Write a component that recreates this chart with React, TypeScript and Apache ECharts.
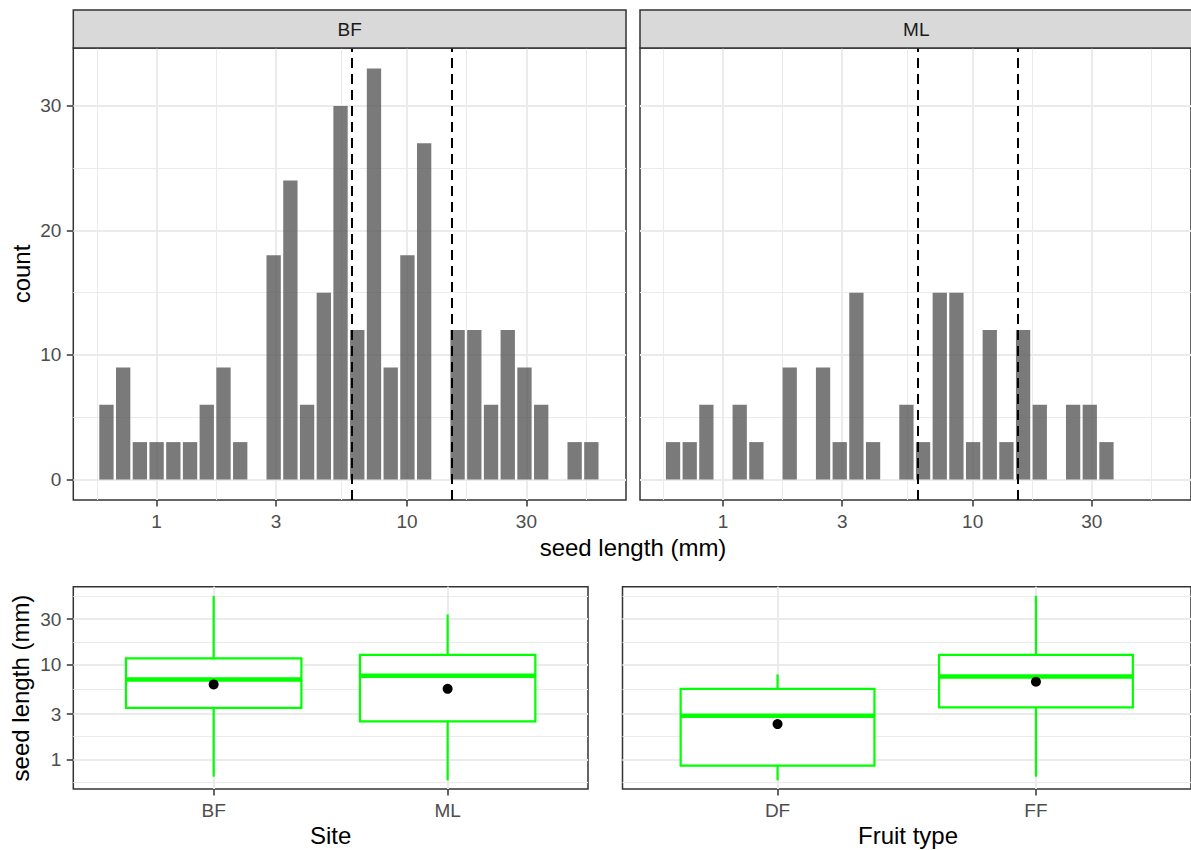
import React, { useEffect, useRef } from "react";
import * as echarts from "echarts";

// ---------- data ----------
// histogram bins (equal width in log10 space)
const binStartLog10 = -0.234;
const binWidthLog10 = 0.0668;
const bfCounts = [6, 9, 3, 3, 3, 3, 6, 9, 3, 0, 18, 24, 6, 15, 30, 12, 33, 9, 18, 27, 0, 12, 12, 6, 12, 9, 6, 0, 3, 3];
const mlCounts = [3, 3, 6, 0, 6, 3, 0, 9, 0, 9, 3, 15, 3, 0, 6, 3, 15, 15, 3, 12, 3, 12, 6, 0, 6, 6, 3, 0, 0, 0];
const facetNames = ["BF", "ML"];
const cutoffValues = [6, 15];

const lengthTicks = [1, 3, 10, 30];
const lengthMinorGrid = [0.577, 1.732, 5.477, 17.32, 51.96];
const countTicks = [0, 10, 20, 30];
const countMinorGrid = [5, 15, 25];

const siteCategories = ["BF", "ML"];
const siteLower = [0.656, 0.6];
const siteQ1 = [3.49, 2.51];
const siteMedian = [6.95, 7.59];
const siteQ3 = [11.6, 12.6];
const siteUpper = [52.7, 33.6];
const siteMean = [6.16, 5.53];

const fruitCategories = ["DF", "FF"];
const fruitLower = [0.6, 0.656];
const fruitQ1 = [0.857, 3.53];
const fruitMedian = [2.88, 7.48];
const fruitQ3 = [5.53, 12.6];
const fruitUpper = [7.85, 52.7];
const fruitMean = [2.35, 6.56];

// ---------- style ----------
const FONT = '"Liberation Sans", Arial, Helvetica, sans-serif';
const TICK_SIZE = 19;
const TITLE_SIZE = 24;
const GRID_COL = "#EBEBEB";
const BORDER_COL = "#333333";
const BOX_COL = "#00FF00";

const lg = (v: number) => Math.log10(v);
const HIST_X = [-0.333, 1.875];
const HIST_Y = [-1.65, 34.65];
const BOX_Y = [-0.313, 1.819];
const BOX_X = [0.4, 2.6];

function mainAxis(gridIndex: number, range: number[], ticks: number[], showLabels: boolean, formatter: any, margin: number) {
  return {
    type: "value",
    gridIndex,
    min: range[0],
    max: range[1],
    axisLine: { show: false, onZero: false },
    axisTick: {
      show: showLabels,
      customValues: ticks,
      length: 6.5,
      lineStyle: { color: BORDER_COL, width: 1.5 },
    },
    axisLabel: {
      show: showLabels,
      customValues: ticks,
      formatter,
      color: "#4D4D4D",
      fontSize: TICK_SIZE,
      fontFamily: FONT,
      margin,
    },
    splitLine: { show: true, lineStyle: { color: GRID_COL, width: 2 } },
  };
}

function minorAxis(gridIndex: number, range: number[], ticks: number[]) {
  return {
    type: "value",
    gridIndex,
    min: range[0],
    max: range[1],
    axisLine: { show: false, onZero: false },
    axisTick: { show: false, customValues: ticks },
    axisLabel: { show: false, customValues: ticks },
    splitLine: { show: true, lineStyle: { color: GRID_COL, width: 1 } },
  };
}

const logFmt = (v: number) => String(Math.round(Math.pow(10, v)));

function histSeries(counts: number[], xIdx: number, yIdx: number) {
  const data = counts.map((c, i) => [binStartLog10 + i * binWidthLog10, binStartLog10 + (i + 1) * binWidthLog10, c]);
  return {
    type: "custom",
    xAxisIndex: xIdx,
    yAxisIndex: yIdx,
    data,
    renderItem: (params: any, api: any) => {
      const c = api.value(2);
      if (c <= 0) return null;
      const p0 = api.coord([api.value(0), c]);
      const p1 = api.coord([api.value(1), 0]);
      const inset = 1.2;
      return {
        type: "rect",
        shape: { x: p0[0] + inset, y: p0[1], width: p1[0] - p0[0] - 2 * inset, height: p1[1] - p0[1] },
        style: { fill: "rgba(89,89,89,0.8)" },
      };
    },
    markLine: {
      silent: true,
      symbol: "none",
      label: { show: false },
      animation: false,
      lineStyle: { type: [10, 6], color: "#000", width: 2, opacity: 1 },
      data: cutoffValues.map((v) => ({ xAxis: lg(v) })),
    },
    z: 3,
  };
}

function boxSeries(lower: number[], q1: number[], med: number[], q3: number[], upper: number[], xIdx: number, yIdx: number) {
  const data = lower.map((_, i) => [i + 1, lg(lower[i]), lg(q1[i]), lg(med[i]), lg(q3[i]), lg(upper[i])]);
  return {
    type: "custom",
    xAxisIndex: xIdx,
    yAxisIndex: yIdx,
    data,
    renderItem: (params: any, api: any) => {
      const x = api.value(0);
      const pLow = api.coord([x, api.value(1)]);
      const pQ1 = api.coord([x, api.value(2)]);
      const pMed = api.coord([x, api.value(3)]);
      const pQ3 = api.coord([x, api.value(4)]);
      const pUp = api.coord([x, api.value(5)]);
      const left = api.coord([x - 0.375, api.value(3)])[0];
      const right = api.coord([x + 0.375, api.value(3)])[0];
      const ls = { stroke: BOX_COL, lineWidth: 2.2 };
      return {
        type: "group",
        children: [
          { type: "line", shape: { x1: pQ3[0], y1: pQ3[1], x2: pUp[0], y2: pUp[1] }, style: ls },
          { type: "line", shape: { x1: pQ1[0], y1: pQ1[1], x2: pLow[0], y2: pLow[1] }, style: ls },
          {
            type: "rect",
            shape: { x: left, y: pQ3[1], width: right - left, height: pQ1[1] - pQ3[1] },
            style: { fill: "#fff", stroke: BOX_COL, lineWidth: 2.2 },
          },
          { type: "line", shape: { x1: left, y1: pMed[1], x2: right, y2: pMed[1] }, style: { stroke: BOX_COL, lineWidth: 4.5 } },
        ],
      };
    },
    z: 3,
  };
}

function meanSeries(mean: number[], xIdx: number, yIdx: number) {
  return {
    type: "scatter",
    xAxisIndex: xIdx,
    yAxisIndex: yIdx,
    data: mean.map((m, i) => [i + 1, lg(m)]),
    symbol: "circle",
    symbolSize: 10,
    itemStyle: { color: "#000", opacity: 1 },
    z: 5,
  };
}

function textEl(text: string, x: number, y: number, size: number, color: string, rotation = 0) {
  return {
    type: "text",
    x,
    y,
    rotation,
    z: 10,
    style: { text, fontSize: size, fontFamily: FONT, fill: color, align: "center", verticalAlign: "middle" },
  };
}

function buildOption() {
  const gridBase = { show: true, borderColor: BORDER_COL, borderWidth: 1.5, backgroundColor: "#fff", containLabel: false };
  const grids = [
    { ...gridBase, left: 73.3, top: 48, width: 552.7, height: 452 },
    { ...gridBase, left: 640, top: 48, width: 552.7, height: 452 },
    { ...gridBase, left: 73.3, top: 586.7, width: 514.7, height: 202.3 },
    { ...gridBase, left: 622.5, top: 586.7, width: 571.5, height: 202.3 },
  ];
  const lenTickPos = lengthTicks.map(lg);
  const lenMinorPos = lengthMinorGrid.map(lg);
  const xAxis = [
    mainAxis(0, HIST_X, lenTickPos, true, logFmt, 12),
    minorAxis(0, HIST_X, lenMinorPos),
    mainAxis(1, HIST_X, lenTickPos, true, logFmt, 12),
    minorAxis(1, HIST_X, lenMinorPos),
    mainAxis(2, BOX_X, [1, 2], true, (v: number) => siteCategories[Math.round(v) - 1], 12),
    mainAxis(3, BOX_X, [1, 2], true, (v: number) => fruitCategories[Math.round(v) - 1], 12),
  ];
  const yAxis = [
    mainAxis(0, HIST_Y, countTicks, true, (v: number) => String(v), 12),
    minorAxis(0, HIST_Y, countMinorGrid),
    mainAxis(1, HIST_Y, countTicks, false, null, 12),
    minorAxis(1, HIST_Y, countMinorGrid),
    mainAxis(2, BOX_Y, lenTickPos, true, logFmt, 12),
    minorAxis(2, BOX_Y, lenMinorPos),
    mainAxis(3, BOX_Y, lenTickPos, false, null, 12),
    minorAxis(3, BOX_Y, lenMinorPos),
  ];
  const series = [
    histSeries(bfCounts, 0, 0),
    histSeries(mlCounts, 2, 2),
    boxSeries(siteLower, siteQ1, siteMedian, siteQ3, siteUpper, 4, 4),
    meanSeries(siteMean, 4, 4),
    boxSeries(fruitLower, fruitQ1, fruitMedian, fruitQ3, fruitUpper, 5, 6),
    meanSeries(fruitMean, 5, 6),
  ];
  const graphic = [
    { type: "rect", z: 9, shape: { x: 73.3, y: 10, width: 552.7, height: 38 }, style: { fill: "#D9D9D9", stroke: BORDER_COL, lineWidth: 1.5 } },
    { type: "rect", z: 9, shape: { x: 640, y: 10, width: 552.7, height: 38 }, style: { fill: "#D9D9D9", stroke: BORDER_COL, lineWidth: 1.5 } },
    textEl(facetNames[0], 349.6, 29.5, TICK_SIZE, "#1A1A1A"),
    textEl(facetNames[1], 916.3, 29.5, TICK_SIZE, "#1A1A1A"),
    textEl("count", 21, 274, TITLE_SIZE, "#000", Math.PI / 2),
    textEl("seed length (mm)", 633, 547, TITLE_SIZE, "#000"),
    textEl("seed length (mm)", 20, 688, TITLE_SIZE, "#000", Math.PI / 2),
    textEl("Site", 330.6, 835, TITLE_SIZE, "#000"),
    textEl("Fruit type", 908, 835, TITLE_SIZE, "#000"),
  ];
  return {
    animation: false,
    backgroundColor: "#fff",
    grid: grids,
    xAxis,
    yAxis,
    series,
    graphic,
  };
}

export default function App() {
  const ref = useRef<HTMLDivElement>(null);
  useEffect(() => {
    document.body.style.margin = "0";
    if (!ref.current) return;
    const chart = echarts.init(ref.current, undefined, { renderer: "svg" });
    chart.setOption(buildOption() as any);
    return () => chart.dispose();
  }, []);
  return <div ref={ref} style={{ width: 1191, height: 850 }} />;
}
